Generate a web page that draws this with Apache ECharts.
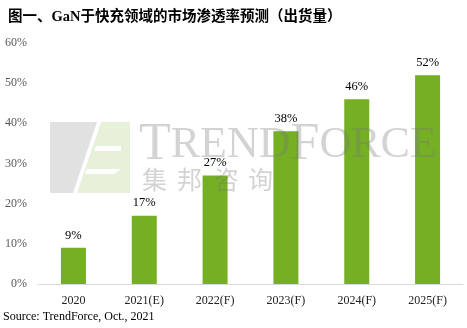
<!DOCTYPE html>
<html><head><meta charset="utf-8">
<script src="https://cdn.jsdelivr.net/npm/echarts@6/dist/echarts.min.js"></script>
<style>html,body{margin:0;padding:0;background:#fff}#c{width:467px;height:328px}</style>
</head><body><div id="c"></div>
<script>
const categories = ['2020','2021(E)','2022(F)','2023(F)','2024(F)','2025(F)'];
const penetration = [9, 17, 27, 38, 46, 52];
const yTicks = [0, 10, 20, 30, 40, 50, 60];
const titleText = '图一、GaN于快充领域的市场渗透率预测（出货量）';
const sourceText = 'Source: TrendForce, Oct., 2021';

const serif = '"Liberation Serif","Times New Roman",serif';
const chart = echarts.init(document.getElementById('c'));
const wmColor = 'rgba(120,120,120,0.33)';
chart.setOption({
  animation: false,
  title: { text: titleText, left: 3, top: 5,
    textStyle: { fontFamily: '"Liberation Serif","Noto Sans CJK SC",serif', fontWeight: 'bold', fontSize: 14.5, color: '#000' } },
  grid: { left: 38, right: 4, top: 43, bottom: 44, containLabel: false },
  xAxis: { type: 'category', data: categories,
    axisLine: { lineStyle: { color: '#d9d9d9' } }, axisTick: { show: false },
    axisLabel: { fontFamily: serif, fontSize: 12, color: '#222', margin: 11 } },
  yAxis: { type: 'value', min: yTicks[0], max: yTicks[yTicks.length-1], interval: 10,
    splitLine: { show: false }, axisLine: { show: false }, axisTick: { show: false },
    axisLabel: { fontFamily: serif, fontSize: 12, color: '#595959', margin: 11, formatter: '{value}%' } },
  series: [{ type: 'bar', data: penetration, barWidth: 25,
    itemStyle: { color: '#74AF24' },
    label: { show: true, position: 'top', distance: 6, formatter: '{c}%',
      fontFamily: serif, fontSize: 12.5, color: '#000' } }],
  graphic: [
    { type: 'text', left: 3, top: 311, style: { text: sourceText, font: '12px ' + serif, fill: '#000' } },
    // logo
    { type: 'polygon', z: 100, shape: { points: [[50,122],[97,122],[73,193],[50,193]] }, style: { fill: 'rgba(200,200,200,0.55)' } },
    { type: 'polygon', z: 100, shape: { points: [[101,122],[130,122],[130,193],[77,193]] }, style: { fill: '#E7F1DA' } },
    { type: 'polygon', z: 101, shape: { points: [[96,146],[121,146],[121,151],[94,151]] }, style: { fill: '#fff' } },
    { type: 'polygon', z: 101, shape: { points: [[87,169],[121,169],[114,174],[85,174]] }, style: { fill: '#fff' } },
    // wordmark
    { type: 'text', z: 100, left: 139, top: 119,
      style: { text: '{a|T}{b|REND}{a|F}{b|ORCE}', fill: wmColor,
        rich: { a: { fontFamily: serif, fontSize: 52, fill: wmColor }, b: { fontFamily: serif, fontSize: 44, fill: wmColor } } } },
    { type: 'text', z: 100, left: 142, top: 167, style: { text: '集', font: '25px "Noto Sans CJK SC"', fill: wmColor } },
    { type: 'text', z: 100, left: 177, top: 167, style: { text: '邦', font: '25px "Noto Sans CJK SC"', fill: wmColor } },
    { type: 'text', z: 100, left: 214, top: 167, style: { text: '咨', font: '25px "Noto Sans CJK SC"', fill: wmColor } },
    { type: 'text', z: 100, left: 248, top: 167, style: { text: '询', font: '25px "Noto Sans CJK SC"', fill: wmColor } }
  ]
});
</script></body></html>
